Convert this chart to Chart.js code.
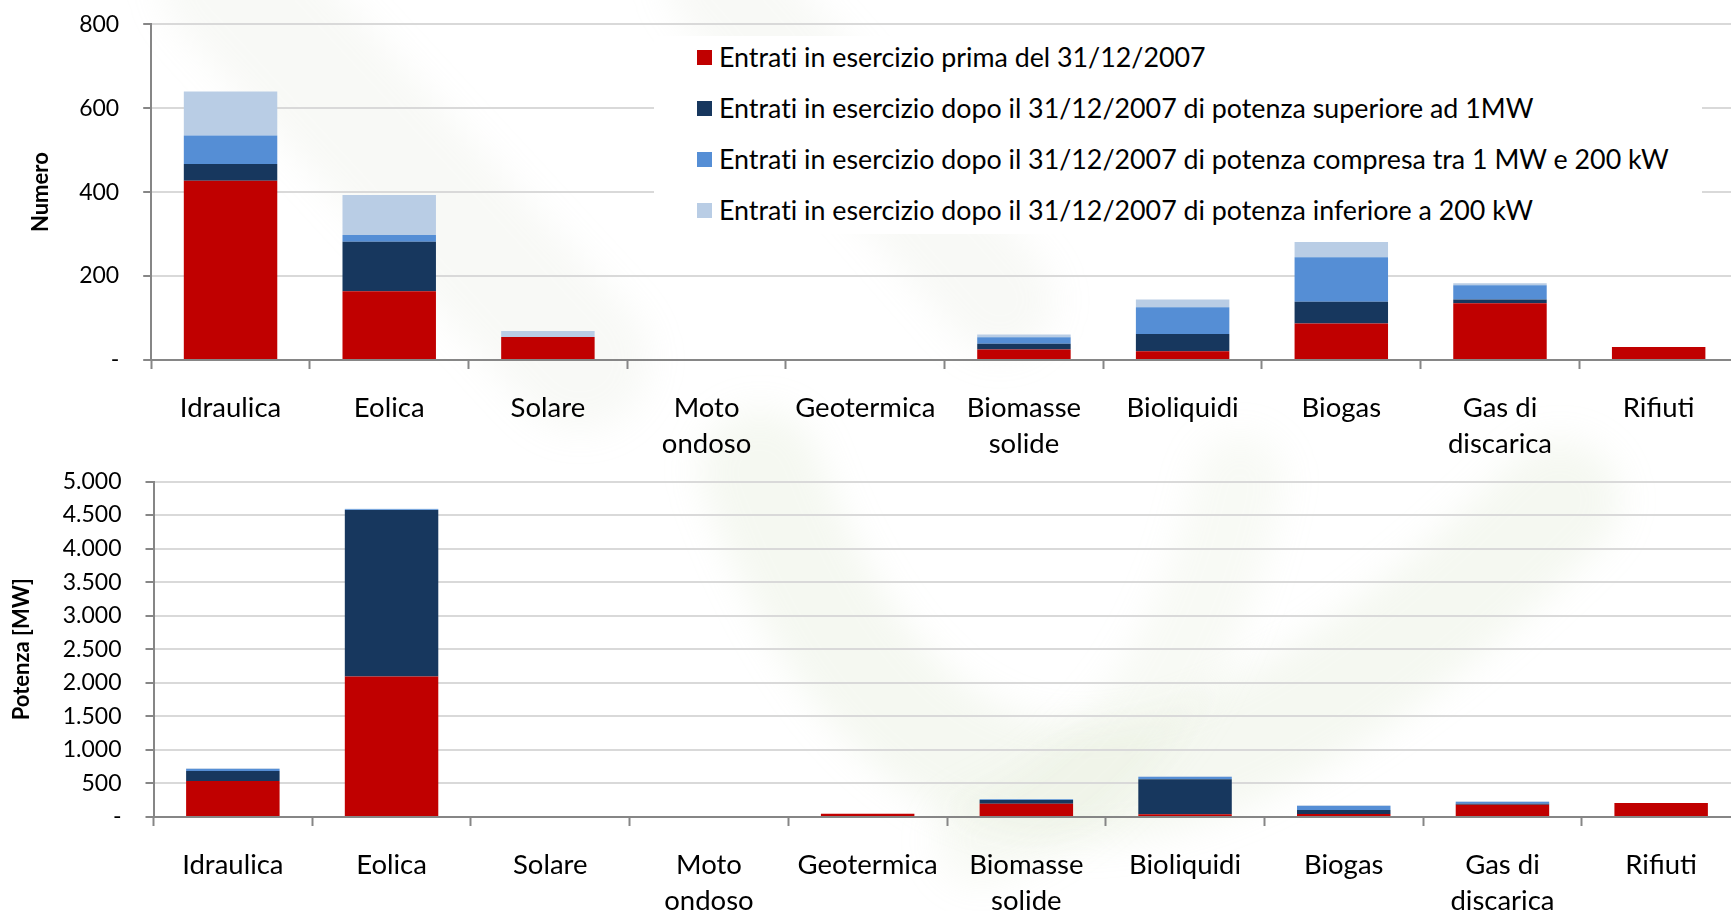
<!DOCTYPE html>
<html>
<head>
<meta charset="utf-8">
<script src="https://cdn.jsdelivr.net/npm/chart.js@4.4.1/dist/chart.umd.min.js"></script>
<style>
html,body{margin:0;padding:0;background:#fff;overflow:hidden;width:1731px;height:911px;}
#wrap{position:relative;width:1731px;height:911px;overflow:hidden;}
canvas{position:absolute;left:0;}
#bg{top:0;}
#c1{top:0;}
#c2{top:455px;}
#legend{position:absolute;left:654px;top:36px;width:1048px;height:198px;background:#fff;font-family:Lato,sans-serif;font-size:26.8px;color:#000;font-variant-ligatures:none;}
.row{position:absolute;left:0;height:30px;display:flex;align-items:center;white-space:nowrap;}
.sw{width:15px;height:15px;margin-left:43px;margin-right:7px;flex:none;}
</style>
</head>
<body>
<div id="wrap">
<canvas id="bg" width="1731" height="911"></canvas>
<canvas id="c1" width="1760" height="455"></canvas>
<canvas id="c2" width="1760" height="456"></canvas>
<div id="legend"></div>
</div>
<script>
// ---- data ----
const categories = ['Idraulica', 'Eolica', 'Solare', ['Moto', 'ondoso'], 'Geotermica', ['Biomasse', 'solide'], 'Bioliquidi', 'Biogas', ['Gas di', 'discarica'], 'Rifiuti'];
const seriesLabels = [
  'Entrati in esercizio prima del 31/12/2007',
  'Entrati in esercizio dopo il 31/12/2007 di potenza superiore ad 1MW',
  'Entrati in esercizio dopo il 31/12/2007 di potenza compresa tra 1 MW e 200 kW',
  'Entrati in esercizio dopo il 31/12/2007 di potenza inferiore a 200 kW'
];
// Numero (count of plants)
const numeroPrima   = [427, 164, 55, 0, 0, 25, 21, 87, 135, 31];
const numeroSup1MW  = [40, 118, 0, 0, 0, 14, 41, 52, 9, 0];
const numeroTra     = [68, 16, 0, 0, 0, 15, 64, 106, 34, 0];
const numeroInf     = [105, 95, 14, 0, 0, 7, 18, 36, 5, 0];
// Potenza [MW]
const potenzaPrima  = [536, 2094, 0, 0, 50, 197, 40, 45, 184, 209];
const potenzaSup1MW = [149, 2481, 0, 0, 0, 58, 522, 60, 15, 0];
const potenzaTra    = [30, 12, 0, 0, 0, 8, 35, 60, 25, 0];
const potenzaInf    = [10, 6, 0, 0, 0, 5, 10, 10, 10, 0];
// tick labels
const numeroTicks  = ['-', '200', '400', '600', '800'];
const potenzaTicks = ['-', '500', '1.000', '1.500', '2.000', '2.500', '3.000', '3.500', '4.000', '4.500', '5.000'];
const numeroTitle  = 'Numero';
const potenzaTitle = 'Potenza [MW]';

// ---- styles ----
const colors = ['#c00000', '#17375e', '#558ed5', '#b9cde5'];
const FONT = 'Lato';
Chart.defaults.font.family = FONT;
Chart.defaults.color = '#000';

// faint background watermark (decorative)
(function () {
  const c = document.getElementById('bg').getContext('2d');
  c.filter = 'blur(18px)';
  c.lineCap = 'round';
  c.strokeStyle = 'rgba(196,214,170,0.17)';
  c.lineWidth = 120;
  c.beginPath();
  c.moveTo(760, 470);
  c.quadraticCurveTo(980, 1080, 1560, 500);
  c.stroke();
  c.strokeStyle = 'rgba(196,214,170,0.12)';
  c.lineWidth = 90;
  c.beginPath();
  c.moveTo(1240, 480);
  c.quadraticCurveTo(1180, 760, 980, 840);
  c.stroke();
  c.strokeStyle = 'rgba(200,212,186,0.13)';
  c.lineWidth = 140;
  c.beginPath();
  c.moveTo(230, -20);
  c.lineTo(580, 360);
  c.stroke();
  c.lineWidth = 110;
  c.beginPath();
  c.moveTo(720, -20);
  c.lineTo(1000, 300);
  c.stroke();
})();

function makeChart(canvasId, seriesList, maxV, step, tickLabels, title, geo) {
  const ctx = document.getElementById(canvasId);
  return new Chart(ctx, {
    type: 'bar',
    data: {
      labels: categories,
      datasets: seriesList.map((d, i) => ({
        label: seriesLabels[i],
        data: d,
        backgroundColor: colors[i],
        borderWidth: 0,
        barPercentage: 1,
        categoryPercentage: 0.589
      }))
    },
    options: {
      responsive: false,
      animation: false,
      devicePixelRatio: 1,
      layout: { padding: { top: geo.top, right: geo.right, left: 0, bottom: 0 } },
      plugins: { legend: { display: false }, tooltip: { enabled: false }, title: { display: false } },
      scales: {
        x: {
          stacked: true,
          grid: { drawOnChartArea: false, drawTicks: true, tickLength: 9, tickColor: '#868686', tickWidth: 2, offset: true },
          border: { color: '#868686', width: 2 },
          ticks: { autoSkip: false, maxRotation: 0, minRotation: 0, padding: 21, color: '#000',
                   font: { family: FONT, size: 27.5, lineHeight: 1.31 } },
          afterFit: s => { s.height = geo.xH; s.paddingLeft = 0; s.paddingRight = 0; }
        },
        y: {
          stacked: true,
          min: 0, max: maxV,
          grid: { color: '#d9d9d9', lineWidth: 2, drawTicks: true, tickLength: 8, tickColor: '#868686', tickWidth: 2 },
          border: { color: '#868686', width: 2 },
          ticks: { stepSize: step, padding: 24, color: '#000', font: { family: FONT, size: 23 },
                   callback: v => tickLabels[Math.round(v / step)] },
          title: { display: true, text: title, color: '#000', padding: { top: geo.tPad, bottom: 0 },
                   font: { family: FONT, size: 22, weight: 'bold', lineHeight: 1.2 } },
          afterFit: s => { s.width = geo.yW; s.paddingTop = 0; s.paddingBottom = 0; }
        }
      }
    }
  });
}

makeChart('c1', [numeroPrima, numeroSup1MW, numeroTra, numeroInf], 800, 200, numeroTicks, numeroTitle,
  { top: 24.3, right: 22, xH: 95, yW: 151.2, tPad: 27.5 });
makeChart('c2', [potenzaPrima, potenzaSup1MW, potenzaTra, potenzaInf], 5000, 500, potenzaTicks, potenzaTitle,
  { top: 26.5, right: 19.5, xH: 94, yW: 153.5, tPad: 9 });

// legend (HTML)
const legendTops = [6, 57, 108, 159];
const lg = document.getElementById('legend');
seriesLabels.forEach((t, i) => {
  const r = document.createElement('div');
  r.className = 'row';
  r.style.top = legendTops[i] + 'px';
  const sw = document.createElement('span');
  sw.className = 'sw';
  sw.style.background = colors[i];
  const tx = document.createElement('span');
  tx.textContent = t;
  r.appendChild(sw); r.appendChild(tx);
  lg.appendChild(r);
});
</script>
</body>
</html>
